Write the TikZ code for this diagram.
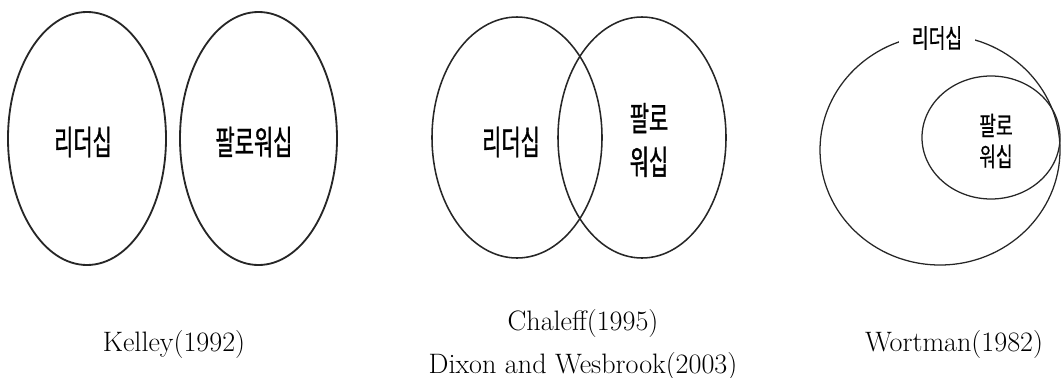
\documentclass[tikz,border=0pt]{standalone}
\usepackage{fontspec}
\usepackage{tikz}
\newfontfamily\krfont[FakeStretch=0.62, FakeBold=1.0]{Noto Sans CJK KR}
\newfontfamily\krsmall[FakeStretch=0.7, FakeBold=0.6]{Noto Sans CJK KR}
\definecolor{linegray}{HTML}{262626}

\begin{document}
\begin{tikzpicture}[
    ring/.style={draw=linegray, line width=1.1pt},
    krlabel/.style={font=\krfont\fontsize{24}{31}\selectfont, align=center},
    krlabelsmall/.style={font=\krsmall\fontsize{18.5}{22}\selectfont, align=center},
    citation/.style={font=\fontsize{20}{24}\selectfont, anchor=base}
]
  \useasboundingbox (0,0) rectangle (26.525,9.425);

  % Kelley: zwei getrennte Ellipsen
  \draw[ring, line width=1.3pt] (2.175,5.9625) ellipse (1.975 and 3.1625);
  \draw[ring, line width=1.3pt] (6.4625,5.9625) ellipse (1.9625 and 3.1625);
  \node[krlabel] (kelleyL) at (2.075,5.875) {리더십};
  \node[krlabel] (kelleyF) at (6.35,5.875) {팔로워십};

  % Chaleff / Dixon: Ueberlappung
  \draw[ring] (12.925,5.9875) ellipse (2.125 and 3.0125);
  \draw[ring] (16.05,5.9875) ellipse (2.1 and 3.0125);
  \node[krlabel] (chaleffL) at (12.775,5.875) {리더십};
  \node[krlabel] (chaleffF) at (16.225,5.925) {팔로\\워십};

  % Wortman: Followership innerhalb von Leadership
  \draw[ring, line width=0.9pt] (23.5,5.675) ellipse (3.0 and 2.875);
  \draw[ring, line width=0.9pt] (24.775,5.9875) ellipse (1.725 and 1.5375);
  \node[krlabelsmall, fill=white, inner xsep=9pt] (wortmanL) at (23.425,8.475) {리더십};
  \node[krlabelsmall] (wortmanF) at (24.9,5.9) {팔로\\워십};

  % Quellen
  \node[citation] (kelley) at (4.35,0.65) {Kelley(1992)};
  \node[citation] (chaleff) at (14.575,1.175) {Chaleff(1995)};
  \node[citation] (dixon) at (14.575,0.1) {Dixon and Wesbrook(2003)};
  \node[citation] (wortman) at (23.85,0.65) {Wortman(1982)};

\end{tikzpicture}
\end{document}
